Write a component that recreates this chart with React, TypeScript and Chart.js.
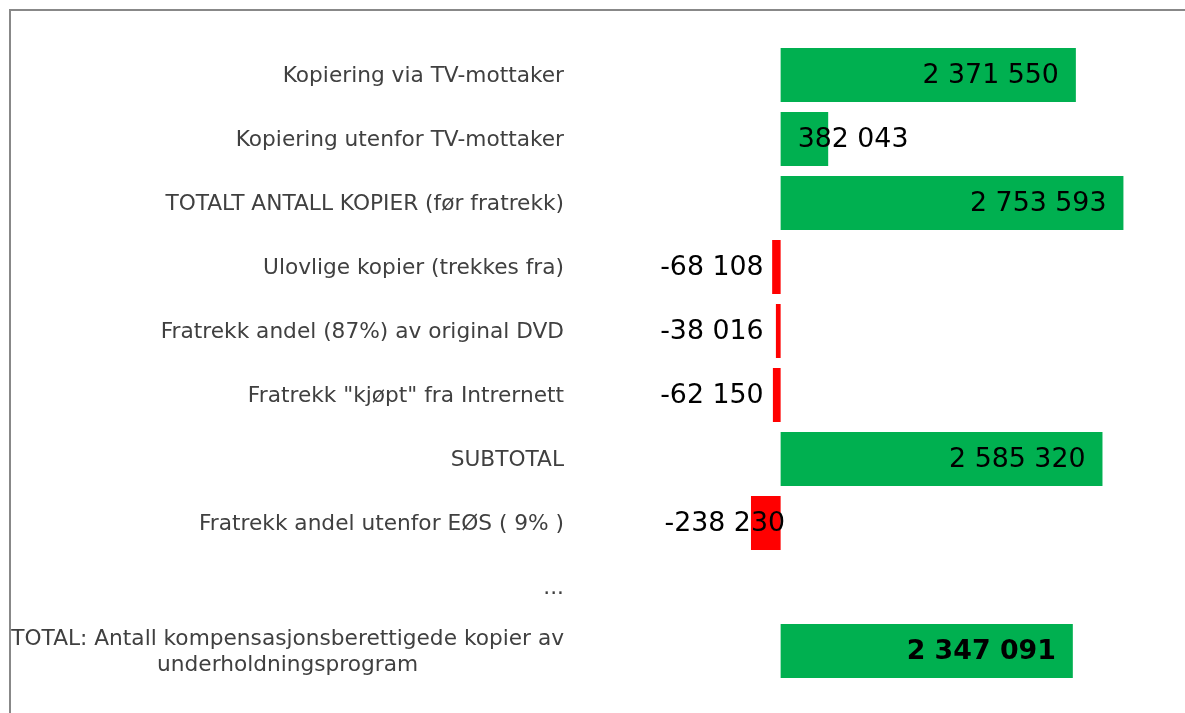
import React, { useEffect, useRef } from "react";
import { Chart, registerables } from "chart.js";

Chart.register(...registerables);

const categories: (string | string[])[] = [
  "Kopiering via TV-mottaker",
  "Kopiering utenfor TV-mottaker",
  "TOTALT ANTALL KOPIER (før fratrekk)",
  "Ulovlige kopier (trekkes fra)",
  "Fratrekk andel (87%) av original DVD",
  'Fratrekk "kjøpt" fra Intrernett',
  "SUBTOTAL",
  "Fratrekk andel utenfor EØS ( 9% )",
  "...",
  ["TOTAL: Antall kompensasjonsberettigede kopier av", "underholdningsprogram"],
];

const values: (number | null)[] = [
  2371550, 382043, 2753593, -68108, -38016, -62150, 2585320, -238230, null, 2347091,
];

const xMin = -1700000;
const xMax = 3200000;

const GREEN = "#00B050";
const RED = "#FF0000";
const FONT = '"DejaVu Sans", Verdana, sans-serif';

function fmt(v: number): string {
  const s = Math.abs(Math.round(v))
    .toString()
    .replace(/\B(?=(\d{3})+(?!\d))/g, " ");
  return (v < 0 ? "-" : "") + s;
}

const labelPlugin = {
  id: "customLabels",
  afterDatasetsDraw(chart: any) {
    const ctx = chart.ctx as CanvasRenderingContext2D;
    const meta = chart.getDatasetMeta(0);
    const xs = chart.scales.x;
    const ys = chart.scales.y;
    const zero = xs.getPixelForValue(0);
    const pad = 17;
    ctx.save();
    ctx.textBaseline = "middle";
    ctx.textAlign = "left";
    meta.data.forEach((bar: any, i: number) => {
      const v = values[i];
      if (v == null) return;
      const bold = i === values.length - 1;
      ctx.font = `${bold ? "bold " : ""}26.8px ${FONT}`;
      ctx.fillStyle = "#000000";
      const text = fmt(v);
      const w = ctx.measureText(text).width;
      const end = bar.x;
      let left: number;
      if (v >= 0) {
        left = end - pad - w;
        if (left < zero + pad) left = zero + pad;
      } else {
        const right = zero - end > 20 ? end + 2 * pad : zero - pad;
        left = right - w;
      }
      ctx.fillText(text, left, bar.y + 1);
    });

    ctx.font = `21.7px ${FONT}`;
    ctx.fillStyle = "#404040";
    ctx.textAlign = "center";
    const rightX = chart.chartArea.left - 5;
    categories.forEach((c, i) => {
      const lines = Array.isArray(c) ? c : [c];
      const y = ys.getPixelForValue(i) + 1;
      const maxW = Math.max(...lines.map((l) => ctx.measureText(l).width));
      const cx = rightX - maxW / 2;
      const lh = 26;
      lines.forEach((l, j) => {
        ctx.fillText(l, cx, y + (j - (lines.length - 1) / 2) * lh);
      });
    });
    ctx.restore();
  },
};

export default function App() {
  const ref = useRef<HTMLCanvasElement | null>(null);

  useEffect(() => {
    if (!ref.current) return;
    const chart = new Chart(ref.current, {
      type: "bar",
      data: {
        labels: categories as any,
        datasets: [
          {
            data: values as any,
            backgroundColor: values.map((v) => ((v ?? 0) < 0 ? RED : GREEN)),
            borderWidth: 0,
            barPercentage: 0.84375,
            categoryPercentage: 1,
          },
        ],
      },
      options: {
        indexAxis: "y",
        responsive: false,
        animation: false,
        devicePixelRatio: 1,
        layout: { padding: { left: 569, right: 6, top: 43, bottom: 30 } },
        plugins: {
          legend: { display: false },
          tooltip: { enabled: false },
          title: { display: false },
        },
        scales: {
          x: { display: false, min: xMin, max: xMax },
          y: { display: false },
        },
      },
      plugins: [labelPlugin],
    });
    return () => chart.destroy();
  }, []);

  return (
    <div
      style={{
        position: "absolute",
        left: 0,
        top: 0,
        width: 1185,
        height: 713,
        overflow: "hidden",
        background: "#ffffff",
      }}
    >
      <div
        style={{
          position: "absolute",
          left: 9,
          top: 9,
          width: 1200,
          height: 720,
          borderLeft: "2px solid #888888",
          borderTop: "2px solid #888888",
        }}
      />
      <canvas
        ref={ref}
        width={1185}
        height={713}
        style={{ position: "absolute", left: 0, top: 0, width: 1185, height: 713 }}
      />
    </div>
  );
}
